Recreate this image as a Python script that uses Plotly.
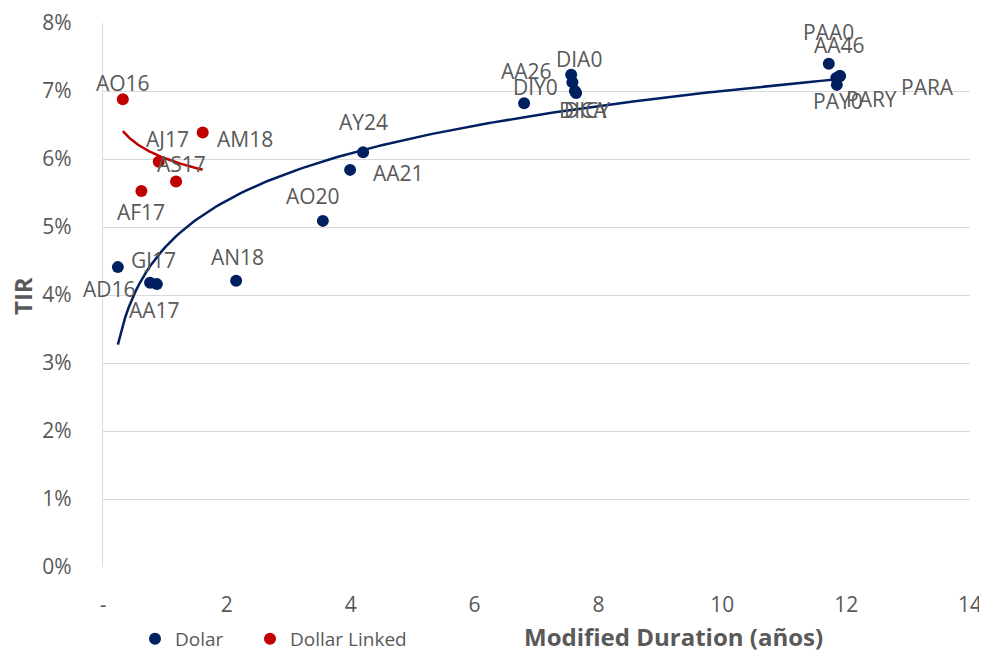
import numpy as np
import plotly.graph_objects as go

# ---- data ----
dolar_names = ["AD16", "GJ17", "AA17", "AN18", "AO20", "AA21", "AY24", "DIY0", "AA26",
               "DIA0", "DICA", "DICY", "PAA0", "AA46", "PARY", "PAY0", "PARA"]
dolar_dur = [0.24, 0.76, 0.87, 2.15, 3.55, 3.99, 4.20, 6.80, 7.56,
             7.58, 7.62, 7.64, 11.72, 11.90, 11.84, 11.85, 11.90]
dolar_tir = [4.41, 4.18, 4.16, 4.21, 5.09, 5.84, 6.10, 6.82, 7.24,
             7.13, 7.00, 6.97, 7.40, 7.22, 7.19, 7.09, 7.22]

linked_names = ["AO16", "AJ17", "AM18", "AS17", "AF17"]
linked_dur = [0.32, 0.90, 1.61, 1.18, 0.62]
linked_tir = [6.88, 5.96, 6.39, 5.67, 5.53]

x_ticks = [0, 2, 4, 6, 8, 10, 12, 14]
x_ticktext = ["-", "2", "4", "6", "8", "10", "12", "14"]
y_ticks = [0, 1, 2, 3, 4, 5, 6, 7, 8]

# label pixel offsets (style)
dolar_label_off = [(-8, 22), (3, -23), (-2, 26), (1, -24), (-10, -25), (48, 3), (0, -30),
                   (11, -16), (-45, -4), (7, -23), (8, 19), (11, 17), (0, -32), (0, -31),
                   (35, 21), (1, 16), (88, 11)]
linked_label_off = [(0, -16), (9, -23), (42, 7), (5, -17), (0, 21)]

BLUE = "#002060"
RED = "#C00000"
GREY = "#595959"
FONT = "Open Sans"

O = 8                      # default page (body) margin of the html
W, H = 987 - O, 652 - O
# plot area in reference window pixels: left 103, right 970, top 23, bottom 567
L, R, T, B = 103 - O, W - (970 - O), 23 - O, H - (567 - O)
pw, ph = W - L - R, H - T - B


def fx(px):  # window px -> paper x
    return (px - O - L) / pw


def fy(py):  # window px -> paper y
    return (H - B - (py - O)) / ph


def log_fit(x, y):
    x = np.asarray(x, float)
    y = np.asarray(y, float)
    b, a = np.polyfit(np.log(x), y, 1)
    xs = np.linspace(x.min(), x.max(), 200)
    return xs, a + b * np.log(xs)


fig = go.Figure()

bx, by = log_fit(dolar_dur, dolar_tir)
rx, ry = log_fit(linked_dur, linked_tir)

fig.add_trace(go.Scatter(x=bx, y=by / 100, mode="lines", line=dict(color=BLUE, width=2.5),
                         showlegend=False, hoverinfo="skip"))
fig.add_trace(go.Scatter(x=dolar_dur, y=np.array(dolar_tir) / 100, mode="markers", name="Dolar",
                         marker=dict(color=BLUE, size=12), text=dolar_names, legend="legend"))
fig.add_trace(go.Scatter(x=linked_dur, y=np.array(linked_tir) / 100, mode="markers",
                         name="Dollar Linked", marker=dict(color=RED, size=12), text=linked_names,
                         legend="legend2"))
fig.add_trace(go.Scatter(x=rx, y=ry / 100, mode="lines", line=dict(color=RED, width=2.5),
                         showlegend=False, hoverinfo="skip"))

annotations = []
for names, xs, ys, offs in [(dolar_names, dolar_dur, dolar_tir, dolar_label_off),
                            (linked_names, linked_dur, linked_tir, linked_label_off)]:
    for n, x, y, (dx, dy) in zip(names, xs, ys, offs):
        annotations.append(dict(x=x, y=y / 100, xref="x", yref="y", text=n, showarrow=False,
                                xshift=dx, yshift=-dy,
                                font=dict(family=FONT, size=21, color=GREY)))

annotations.append(dict(x=fx(673), y=fy(636), xref="paper", yref="paper",
                        xanchor="center", yanchor="middle",
                        text="<b>Modified Duration (años)</b>", showarrow=False,
                        font=dict(family=FONT, size=24, color=GREY)))
annotations.append(dict(x=fx(22), y=fy(296), xref="paper", yref="paper",
                        xanchor="center", yanchor="middle",
                        text="<b>TIR</b>", textangle=-90, showarrow=False,
                        font=dict(family=FONT, size=24, color=GREY)))

legend_style = dict(orientation="h", xref="container", yref="container",
                    y=1 - (639 - O) / H, xanchor="left", yanchor="middle",
                    font=dict(family=FONT, size=19, color=GREY), itemwidth=30,
                    bgcolor="rgba(0,0,0,0)")

fig.update_layout(
    width=W, height=H,
    margin=dict(l=L, r=R, t=T, b=B, autoexpand=False),
    paper_bgcolor="white", plot_bgcolor="white",
    font=dict(family=FONT, size=21, color=GREY),
    annotations=annotations,
    legend=dict(legend_style, x=(135 - O) / W),
    legend2=dict(legend_style, x=(250 - O) / W),
    xaxis=dict(range=[0, 14], tickvals=x_ticks, ticktext=x_ticktext, showgrid=False, zeroline=False,
               showline=False, ticks="", ticklabelstandoff=23, ticklabeloverflow="allow",
               tickfont=dict(size=21, color=GREY)),
    yaxis=dict(range=[0, 0.08], tickvals=[v / 100 for v in y_ticks], tickformat=".0%",
               showgrid=True, gridcolor="#D9D9D9", gridwidth=1.3, zeroline=False,
               showline=True, linecolor="#D9D9D9", linewidth=1.3, ticks="",
               ticklabelstandoff=26, tickfont=dict(size=21, color=GREY)),
)

fig.write_html("out.html")
